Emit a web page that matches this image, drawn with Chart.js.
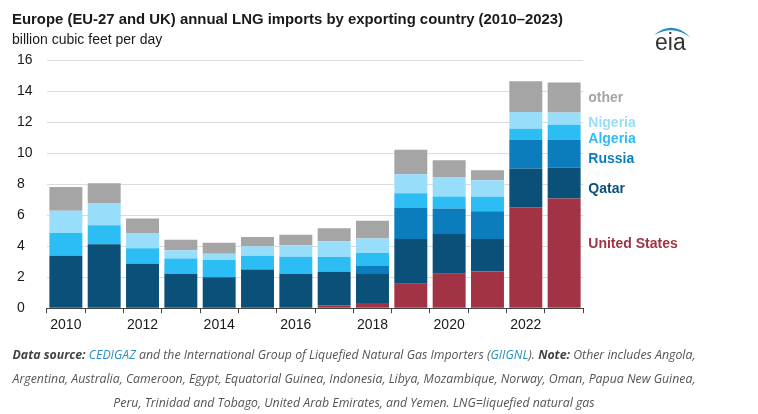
<!DOCTYPE html>
<html>
<head>
<meta charset="utf-8">
<script src="https://cdn.jsdelivr.net/npm/chart.js@4/dist/chart.umd.min.js"></script>
<style>
  html, body { margin: 0; padding: 0; background: #fff; }
  #wrap { position: relative; width: 758px; height: 414px; overflow: hidden; }
  #c { position: absolute; left: 0; top: 0; }
  #foot { position: absolute; left: 0; top: 343px; width: 708px; text-align: center;
          font-family: "Open Sans", sans-serif; font-style: italic; font-size: 12.3px;
          line-height: 24px; color: #555; }
  #foot b { font-weight: 700; color: #444; }
  #foot .lk { color: #2a8fc1; }
</style>
</head>
<body>
<div id="wrap">
<canvas id="c" width="758" height="414"></canvas>
<div id="foot"><b>Data source:</b> <span class="lk">CEDIGAZ</span> and the International Group of Liquefied Natural Gas Importers (<span class="lk">GIIGNL</span>). <b>Note:</b> Other includes Angola,<br>Argentina, Australia, Cameroon, Egypt, Equatorial Guinea, Indonesia, Libya, Mozambique, Norway, Oman, Papua New Guinea,<br>Peru, Trinidad and Tobago, United Arab Emirates, and Yemen. LNG=liquefied natural gas</div>
</div>
<script>
// ---- data ----
const years = ["2010","2011","2012","2013","2014","2015","2016","2017","2018","2019","2020","2021","2022","2023"];
const unitedStates = [0,0,0,0,0,0,0,0.19,0.34,1.57,2.22,2.37,6.51,7.07];
const qatar   = [3.38,4.12,2.87,2.22,2.00,2.50,2.22,2.16,1.86,2.89,2.56,2.09,2.50,1.98];
const russia  = [0,0,0,0,0,0,0,0,0.56,2.03,1.64,1.79,1.85,1.81];
const algeria = [1.47,1.22,0.99,0.99,1.10,0.88,1.10,0.95,0.80,0.92,0.78,0.93,0.71,0.97];
const nigeria = [1.44,1.41,0.99,0.52,0.41,0.61,0.73,1.01,0.94,1.23,1.23,1.07,1.08,0.78];
const other   = [1.53,1.31,0.93,0.69,0.71,0.60,0.69,0.84,1.13,1.58,1.10,0.65,1.98,1.94];
const seriesNames = ["United States","Qatar","Russia","Algeria","Nigeria","other"];
const yTicks = [0,2,4,6,8,10,12,14,16];

const colors = ["#a13344","#0a5079","#0b7dbd","#2cbdf5","#98ddfa","#a5a5a5"];
const labelColors = ["#a13344","#0a5079","#0b7dbd","#2cbdf5","#98ddfa","#a5a5a5"];
// label anchor values (data units) for right-side series labels
const labelAnchors = [4.1, 7.7, 9.6, 10.9, 11.95, 13.55];

const seriesData = [unitedStates, qatar, russia, algeria, nigeria, other];
const FONT = '"Liberation Sans", Arial, sans-serif';

const decor = {
  id: 'decor',
  afterDraw(chart) {
    const ctx = chart.ctx, ca = chart.chartArea, y = chart.scales.y;
    ctx.save();
    // title & subtitle
    ctx.fillStyle = '#1a1a1a';
    ctx.textBaseline = 'middle';
    ctx.textAlign = 'left';
    ctx.font = 'bold 14.9px ' + FONT;
    ctx.fillText('Europe (EU-27 and UK) annual LNG imports by exporting country (2010\u20132023)', 12, 20);
    ctx.font = '14px ' + FONT;
    ctx.fillText('billion cubic feet per day', 12, 40);
    // series labels
    ctx.font = 'bold 14px ' + FONT;
    seriesNames.forEach((n, i) => {
      ctx.fillStyle = labelColors[i];
      ctx.fillText(n, ca.right + 5, y.getPixelForValue(labelAnchors[i]));
    });
    // eia logo
    ctx.fillStyle = '#1e8bc7';
    ctx.beginPath();
    ctx.moveTo(654, 35);
    ctx.quadraticCurveTo(673, 19, 691, 38);
    ctx.quadraticCurveTo(674, 24, 654, 35);
    ctx.closePath();
    ctx.fill();
    ctx.fillStyle = '#333';
    ctx.font = '23px ' + FONT;
    ctx.textBaseline = 'alphabetic';
    ctx.fillText('eia', 655, 50);
    ctx.restore();
  }
};

new Chart(document.getElementById('c'), {
  type: 'bar',
  data: {
    labels: years,
    datasets: seriesData.map((d, i) => ({
      label: seriesNames[i],
      data: d,
      backgroundColor: colors[i],
      borderWidth: 0,
      barPercentage: 0.86,
      categoryPercentage: 1.0
    }))
  },
  options: {
    responsive: false,
    animation: false,
    layout: { padding: { left: 17, right: 174.7, top: 60, bottom: 76 } },
    plugins: { legend: { display: false }, tooltip: { enabled: false }, title: { display: false } },
    scales: {
      x: {
        stacked: true,
        grid: { display: true, drawOnChartArea: false, drawTicks: true, tickLength: 5, color: '#444', offset: true },
        border: { display: true, color: '#444', width: 1 },
        ticks: {
          autoSkip: false, maxRotation: 0, padding: 4, color: '#1a1a1a',
          font: { family: FONT, size: 14 },
          callback: function(v, i) { return i % 2 === 0 ? this.getLabelForValue(v) : ''; }
        }
      },
      y: {
        stacked: true, min: 0, max: 16,
        afterBuildTicks: s => { s.ticks = yTicks.map(v => ({ value: v })); },
        afterFit: s => { s.width = 29.7; },
        grid: { color: '#dcdcdc', drawTicks: false, lineWidth: 1 },
        border: { display: false },
        ticks: { crossAlign: 'far', padding: 4, color: '#1a1a1a', font: { family: FONT, size: 14 } }
      }
    }
  },
  plugins: [decor]
});
</script>
</body>
</html>
